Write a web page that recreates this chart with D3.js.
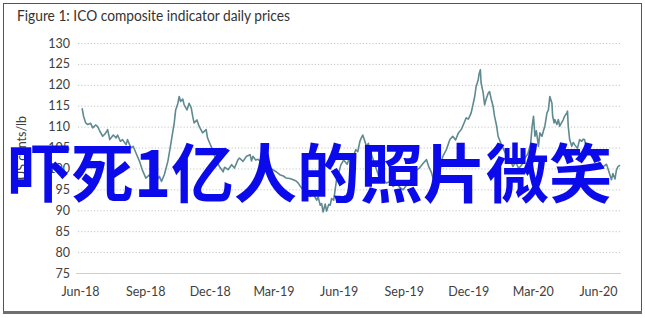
<!DOCTYPE html>
<html>
<head>
<meta charset="utf-8">
<script src="https://cdn.jsdelivr.net/npm/d3@7"></script>
<style>
  html, body { margin: 0; padding: 0; background: #fff; }
  svg { display: block; }
</style>
</head>
<body>
<svg id="chart" width="645" height="318"></svg>
<script>
const titleText = "Figure 1: ICO composite indicator daily prices";
const yAxisTitle = "US cents/lb";
const overlayText = "吓死1亿人的照片微笑";
const yTicks = [75, 80, 85, 90, 95, 100, 105, 110, 115, 120, 125, 130];
const xTickDates = ["2018-06-01","2018-09-01","2018-12-01","2019-03-01","2019-06-01","2019-09-01","2019-12-01","2020-03-01","2020-06-01"];

const dates = [
"2018-06-04","2018-06-06","2018-06-09","2018-06-12","2018-06-16","2018-06-19","2018-06-23","2018-06-26","2018-06-29",
"2018-07-03","2018-07-07","2018-07-10","2018-07-13","2018-07-18","2018-07-22","2018-07-24","2018-07-28","2018-07-31",
"2018-08-05","2018-08-07","2018-08-12","2018-08-15","2018-08-19","2018-08-24","2018-08-28",
"2018-09-02","2018-09-07","2018-09-11","2018-09-14","2018-09-18","2018-09-21","2018-09-24","2018-09-28",
"2018-10-03","2018-10-07","2018-10-12","2018-10-14","2018-10-17","2018-10-19","2018-10-21","2018-10-24","2018-10-26","2018-10-30",
"2018-11-02","2018-11-05","2018-11-07","2018-11-09","2018-11-13","2018-11-16","2018-11-21","2018-11-26","2018-11-28",
"2018-12-01","2018-12-05","2018-12-09","2018-12-15","2018-12-20","2018-12-22","2018-12-27",
"2019-01-01","2019-01-05","2019-01-10","2019-01-12","2019-01-17","2019-01-22","2019-01-27","2019-01-29","2019-01-31",
"2019-02-04","2019-02-07","2019-02-12","2019-02-18","2019-02-23","2019-02-28",
"2019-03-05","2019-03-10","2019-03-15","2019-03-19","2019-03-24","2019-03-29",
"2019-04-02","2019-04-05","2019-04-08","2019-04-12","2019-04-17","2019-04-22","2019-04-26",
"2019-05-01","2019-05-03","2019-05-06","2019-05-08","2019-05-10","2019-05-13","2019-05-15","2019-05-18","2019-05-20","2019-05-22","2019-05-25","2019-05-27","2019-05-29",
"2019-06-01","2019-06-04","2019-06-08","2019-06-13","2019-06-17","2019-06-21","2019-06-25","2019-06-28",
"2019-07-01","2019-07-03","2019-07-05","2019-07-08","2019-07-10","2019-07-13","2019-07-18","2019-07-22","2019-07-26","2019-07-29",
"2019-08-02","2019-08-07","2019-08-12","2019-08-17","2019-08-22","2019-08-26","2019-08-31",
"2019-09-04","2019-09-09","2019-09-14","2019-09-19","2019-09-23","2019-09-28",
"2019-10-03","2019-10-06","2019-10-10","2019-10-14","2019-10-17","2019-10-20","2019-10-23","2019-10-26","2019-10-31",
"2019-11-05","2019-11-09","2019-11-13","2019-11-17","2019-11-21","2019-11-26","2019-11-28",
"2019-12-01","2019-12-03","2019-12-05","2019-12-08","2019-12-10","2019-12-12","2019-12-15","2019-12-16","2019-12-18","2019-12-19","2019-12-22","2019-12-24","2019-12-26","2019-12-29","2019-12-31",
"2020-01-02","2020-01-05","2020-01-07","2020-01-10","2020-01-12","2020-01-16","2020-01-20","2020-01-24","2020-01-29",
"2020-02-02","2020-02-06","2020-02-10","2020-02-15","2020-02-19","2020-02-23","2020-02-27","2020-02-29",
"2020-03-02","2020-03-04","2020-03-06","2020-03-09","2020-03-11","2020-03-14","2020-03-16","2020-03-18","2020-03-21","2020-03-23","2020-03-25","2020-03-28","2020-03-29","2020-03-31",
"2020-04-01","2020-04-04","2020-04-06","2020-04-08","2020-04-13","2020-04-15","2020-04-18","2020-04-19","2020-04-20","2020-04-22","2020-04-25","2020-04-27","2020-04-29",
"2020-05-03","2020-05-06","2020-05-09","2020-05-11","2020-05-13","2020-05-16","2020-05-20","2020-05-25","2020-05-30",
"2020-06-03","2020-06-08","2020-06-13","2020-06-15","2020-06-17","2020-06-20","2020-06-22","2020-06-25","2020-06-27","2020-06-29","2020-07-02"
];

const prices = [
114.4,112.5,110.9,110.5,110.8,109.7,110.4,110.0,108.9,
107.7,108.4,109.3,106.9,108.0,107.3,108.0,106.5,106.9,
105.7,106.9,104.9,105.3,103.7,101.7,99.6,
97.7,98.5,97.0,97.6,97.3,98.1,96.9,98.5,
101.7,105.7,110.9,114.0,115.5,117.2,116.0,116.6,115.2,114.0,
115.6,114.5,112.5,110.9,111.6,110.1,108.5,109.3,107.3,
106.1,104.5,102.5,100.4,99.2,100.3,99.7,
100.9,100.1,102.1,102.5,101.7,102.9,103.3,101.8,102.9,
102.0,102.2,101.5,100.8,100.3,99.7,
99.2,98.5,98.2,97.7,97.6,97.3,
97.0,96.5,95.7,94.9,94.1,93.3,94.0,
92.4,93.2,91.2,91.6,89.6,91.5,89.8,91.4,91.2,92.8,92.4,94.8,97.3,
98.9,100.8,102.0,101.0,103.0,102.5,104.5,104.0,
106.5,107.3,108.0,106.5,105.3,106.0,103.0,101.0,99.0,97.3,
97.8,96.5,96.8,95.7,96.5,95.5,94.9,
95.8,97.0,98.0,99.6,100.1,101.2,
102.1,100.5,99.0,96.5,94.2,96.5,100.5,102.9,104.5,
106.9,107.7,106.8,108.5,109.3,111.3,112.1,
111.8,112.5,113.3,115.6,117.2,119.6,121.2,122.5,123.6,120.5,118.0,115.2,116.5,118.0,118.4,
116.8,114.8,112.5,110.1,107.7,106.0,104.5,103.0,102.0,
100.5,101.5,100.0,101.0,102.5,103.5,106.0,110.0,
112.5,107.7,109.0,105.3,108.5,107.7,109.0,110.1,113.3,114.0,117.2,115.6,112.5,110.9,
111.7,110.5,111.7,110.1,111.7,112.5,113.3,113.7,110.1,106.9,105.3,106.2,105.7,
104.8,106.9,106.5,107.0,106.9,104.5,103.7,102.5,103.0,
101.2,100.4,101.0,100.0,98.9,97.3,98.8,97.5,99.6,100.4,100.8
];

const parse = d3.timeParse("%Y-%m-%d");
const data = dates.map((d, i) => ({ date: parse(d), value: prices[i] }));

const svg = d3.select("#chart");

// frame
svg.append("rect").attr("x", 3.5).attr("y", 3.5).attr("width", 638).attr("height", 308)
  .attr("fill", "#fff").attr("stroke", "#555").attr("stroke-width", 1);
svg.append("line").attr("x1", 3).attr("x2", 642).attr("y1", 312.5).attr("y2", 312.5)
  .attr("stroke", "#6f6f6f").attr("stroke-width", 3);

// title
svg.append("text").attr("x", 17).attr("y", 21)
  .attr("font-family", "Lato, 'Open Sans', sans-serif").attr("font-size", 14.5)
  .attr("fill", "#333").attr("textLength", 273).attr("lengthAdjust", "spacingAndGlyphs")
  .text(titleText);

const x = d3.scaleTime()
  .domain([parse(xTickDates[0]), parse(xTickDates[xTickDates.length - 1])])
  .range([80, 598]);
const y = d3.scaleLinear().domain([75, 130]).range([273, 43]);

const gridX0 = 78, gridX1 = 622;

// gridlines
svg.append("g").selectAll("line").data(yTicks.filter(t => t !== 75)).join("line")
  .attr("x1", gridX0).attr("x2", gridX1)
  .attr("y1", d => y(d) + 0.5).attr("y2", d => y(d) + 0.5)
  .attr("stroke", "#c4c4c4").attr("stroke-width", 1).attr("stroke-dasharray", "1.2,2");
// baseline at 75
svg.append("line").attr("x1", 76).attr("x2", 621).attr("y1", y(75) + 0.5).attr("y2", y(75) + 0.5)
  .attr("stroke", "#cfcfcf").attr("stroke-width", 1);

// y axis (labels only)
const yAxis = d3.axisLeft(y).tickValues(yTicks).tickSize(0).tickPadding(0).tickFormat(d3.format("d"));
const gy = svg.append("g").attr("transform", "translate(70,0)").call(yAxis);
gy.select(".domain").remove();
gy.selectAll("text").attr("font-family", "Lato, sans-serif").attr("font-size", 12.5).attr("fill", "#404040");

// x axis (labels only)
const xAxis = d3.axisBottom(x).tickValues(xTickDates.map(parse)).tickSize(0).tickPadding(0)
  .tickFormat(d3.timeFormat("%b-%y"));
const gx = svg.append("g").attr("transform", "translate(0,287)").call(xAxis);
gx.select(".domain").remove();
gx.selectAll("text").attr("font-family", "Lato, sans-serif").attr("font-size", 12.5).attr("fill", "#404040");

// y axis title
svg.append("text").attr("transform", "translate(26,148) rotate(-90)")
  .attr("text-anchor", "middle")
  .attr("font-family", "Lato, sans-serif").attr("font-size", 12.5).attr("fill", "#404040")
  .text(yAxisTitle);

// line
const line = d3.line().x(d => x(d.date)).y(d => y(d.value)).curve(d3.curveLinear);
svg.append("path").datum(data).attr("d", line)
  .attr("fill", "none").attr("stroke", "#5e8a90").attr("stroke-width", 1.6)
  .attr("stroke-linejoin", "round");

// overlay text
svg.append("text").attr("x", 8).attr("y", 169)
  .attr("dominant-baseline", "central")
  .attr("font-family", "'Noto Sans CJK SC', sans-serif").attr("font-weight", 700)
  .attr("font-size", 64).attr("fill", "#0a0aeb")
  .attr("textLength", 604).attr("lengthAdjust", "spacingAndGlyphs")
  .text(overlayText);
</script>
</body>
</html>
